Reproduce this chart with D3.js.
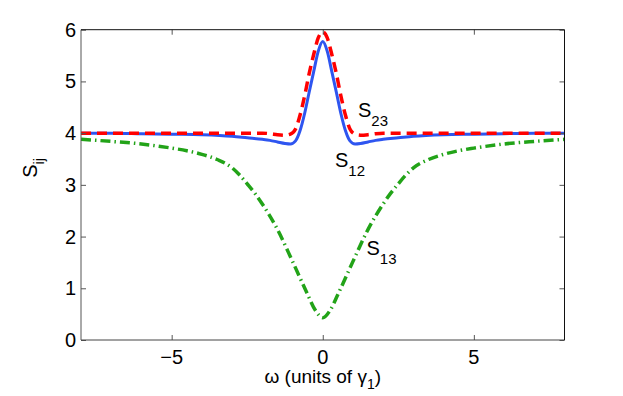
<!DOCTYPE html>
<html>
<head>
<meta charset="utf-8">
<script src="https://cdn.jsdelivr.net/npm/d3@7"></script>
<style>
  body { margin: 0; background: #fff; }
  text { font-family: "Liberation Sans", Arial, Helvetica, sans-serif; fill: #000; }
</style>
</head>
<body>
<div id="chart"></div>
<script>
(function () {
   // values
   const omega = [-8, -7, -6, -5, -4, -3, -2.5, -2, -1.75, -1.5, -1.25, -1.07, -0.9, -0.75, -0.6, -0.45, -0.3, -0.15, 0,
                  0.15, 0.3, 0.45, 0.6, 0.75, 0.9, 1.07, 1.25, 1.5, 1.75, 2, 2.5, 3, 4, 5, 6, 7, 8];
   const s12 = [4.00, 4.00, 3.99, 3.98, 3.97, 3.94, 3.91, 3.88, 3.86, 3.83, 3.80, 3.79, 3.85, 4.05, 4.38, 4.79, 5.19, 5.58, 5.77,
                5.58, 5.19, 4.79, 4.38, 4.05, 3.85, 3.79, 3.80, 3.83, 3.86, 3.88, 3.91, 3.94, 3.97, 3.98, 3.99, 4.00, 4.00];
   const s23 = [4.00, 4.00, 4.00, 4.00, 4.00, 4.00, 4.00, 4.00, 3.99, 3.97, 3.96, 3.98, 4.08, 4.35, 4.72, 5.15, 5.52, 5.84, 5.96,
                5.84, 5.52, 5.15, 4.72, 4.35, 4.08, 3.98, 3.96, 3.97, 3.99, 4.00, 4.00, 4.00, 4.00, 4.00, 4.00, 4.00, 4.00];
   const omega13 = [-8, -7, -6, -5, -4.5, -4, -3.5, -3, -2.75, -2.5, -2.25, -2, -1.5, -1, -0.5, -0.25, 0,
                    0.25, 0.5, 1, 1.5, 2, 2.25, 2.5, 2.75, 3, 3.5, 4, 4.5, 5, 6, 7, 8];
   const s13 = [3.88, 3.84, 3.79, 3.71, 3.66, 3.59, 3.49, 3.33, 3.19, 3.02, 2.84, 2.63, 2.14, 1.52, 0.88, 0.58, 0.43,
                0.58, 0.88, 1.52, 2.14, 2.63, 2.84, 3.02, 3.19, 3.33, 3.49, 3.59, 3.66, 3.71, 3.79, 3.84, 3.88];
   const xTicks = [-5, 0, 5];
   const yTicks = [0, 1, 2, 3, 4, 5, 6];

   const width = 623, height = 396;
   const left = 81, right = 564.5, top = 29.7, bottom = 340;

   const svg = d3.select('#chart')
      .append('svg')
      .attr('width', width)
      .attr('height', height);

   const x = d3.scaleLinear().domain([-8, 8]).range([left, right]);
   const y = d3.scaleLinear().domain([0, 6]).range([bottom, top]);

   const line = d3.line()
      .x(d => x(d[0]))
      .y(d => y(d[1]))
      .curve(d3.curveMonotoneX);

   // curves
   const plot = svg.append('g');
   plot.append('path')
      .datum(omega13.map((w, i) => [w, s13[i]]))
      .attr('d', line)
      .attr('fill', 'none')
      .attr('stroke', '#22a318')
      .attr('stroke-width', 3.5)
      .attr('stroke-dasharray', '10,4,1.5,4');

   plot.append('path')
      .datum(omega.map((w, i) => [w, s12[i]]))
      .attr('d', line)
      .attr('fill', 'none')
      .attr('stroke', '#2e55f0')
      .attr('stroke-width', 3);

   plot.append('path')
      .datum(omega.map((w, i) => [w, s23[i]]))
      .attr('d', line)
      .attr('fill', 'none')
      .attr('stroke', '#ff0000')
      .attr('stroke-width', 3.5)
      .attr('stroke-dasharray', '10,6');

   // axes with inward ticks on all four sides
   const tk = 5;
   svg.append('g')
      .attr('transform', `translate(0,${bottom})`)
      .call(d3.axisTop(x).tickValues(xTicks).tickSize(tk).tickFormat(''))
      .call(g => g.select('.domain').remove());
   svg.append('g')
      .attr('transform', `translate(0,${top})`)
      .call(d3.axisBottom(x).tickValues(xTicks).tickSize(tk).tickFormat(''))
      .call(g => g.select('.domain').remove());
   svg.append('g')
      .attr('transform', `translate(${left},0)`)
      .call(d3.axisRight(y).tickValues(yTicks).tickSize(tk).tickFormat(''))
      .call(g => g.select('.domain').remove());
   svg.append('g')
      .attr('transform', `translate(${right},0)`)
      .call(d3.axisLeft(y).tickValues(yTicks).tickSize(tk).tickFormat(''))
      .call(g => g.select('.domain').remove());
   svg.selectAll('.tick line').attr('stroke', '#555');

   // box
   svg.append('line').attr('x1', left).attr('x2', right).attr('y1', bottom).attr('y2', bottom).attr('stroke', '#444');
   svg.append('line').attr('x1', left).attr('x2', left).attr('y1', top).attr('y2', bottom).attr('stroke', '#555');
   svg.append('line').attr('x1', left).attr('x2', right).attr('y1', top).attr('y2', top).attr('stroke', '#111');
   svg.append('line').attr('x1', right).attr('x2', right).attr('y1', top).attr('y2', bottom).attr('stroke', '#111');

   // tick labels
   svg.append('g').selectAll('text')
      .data(xTicks)
      .join('text')
      .attr('x', d => x(d))
      .attr('y', bottom + 24)
      .attr('text-anchor', 'middle')
      .attr('font-size', 20)
      .text(d => d < 0 ? '\u2212' + Math.abs(d) : d);

   svg.append('g').selectAll('text')
      .data(yTicks)
      .join('text')
      .attr('x', left - 5)
      .attr('y', d => y(d) + 7)
      .attr('text-anchor', 'end')
      .attr('font-size', 20)
      .text(d => d);

   // axis titles
   const xl = svg.append('text')
      .attr('x', x(0))
      .attr('y', 383)
      .attr('text-anchor', 'middle')
      .attr('font-size', 19);
   xl.append('tspan').text('\u03c9 (units of \u03b3');
   xl.append('tspan').attr('font-size', 14).attr('dy', 6).text('1');
   xl.append('tspan').attr('dy', -6).text(')');

   const yl = svg.append('text')
      .attr('transform', 'translate(37,168) rotate(-90)')
      .attr('text-anchor', 'middle')
      .attr('font-size', 20);
   yl.append('tspan').text('S');
   yl.append('tspan').attr('font-size', 14).attr('dy', 7).text('ij');

   // curve labels
   const labels = [
      { name: '23', lx: 358, ly: 117 },
      { name: '12', lx: 335, ly: 167 },
      { name: '13', lx: 366.5, ly: 255 }
   ];
   labels.forEach(l => {
      const t = svg.append('text')
         .attr('x', l.lx)
         .attr('y', l.ly)
         .attr('font-size', 20);
      t.append('tspan').text('S');
      t.append('tspan').attr('font-size', 15).attr('dy', 9).text(l.name);
   });
})();
</script>
</body>
</html>
